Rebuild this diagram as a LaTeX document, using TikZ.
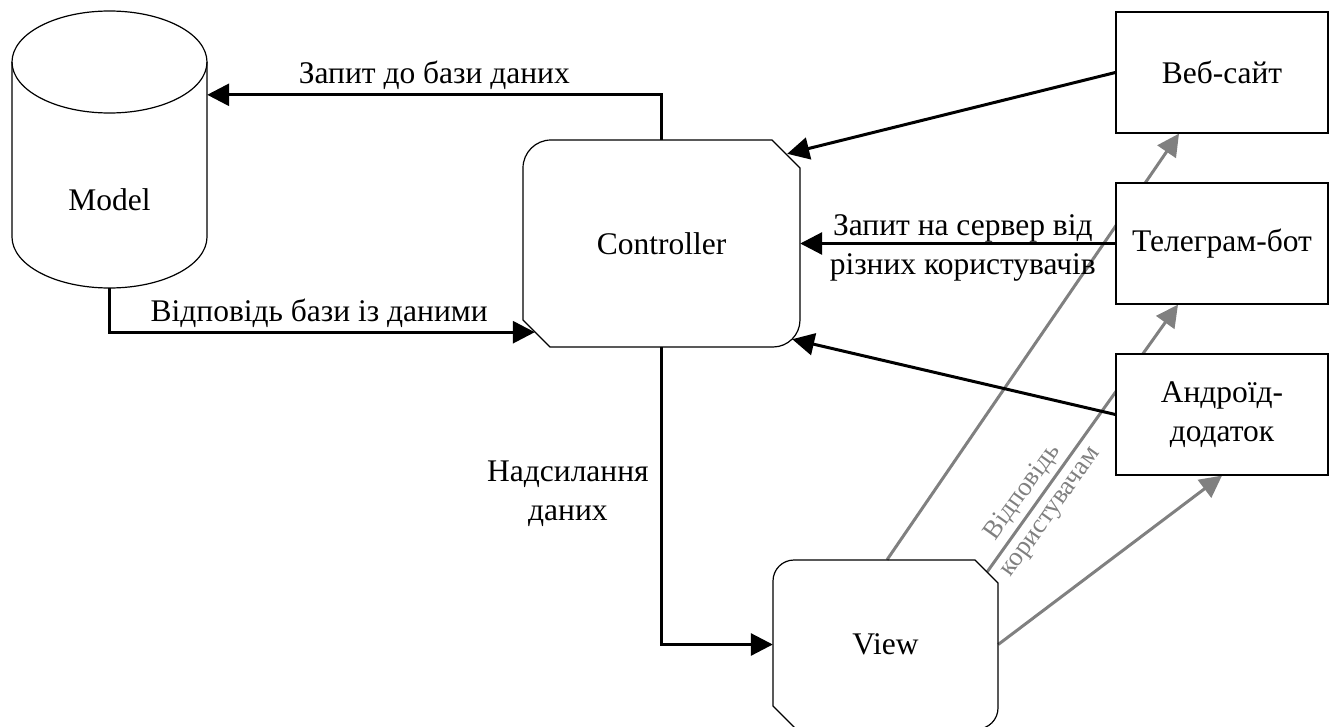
\documentclass[tikz,border=0pt]{standalone}
\usepackage{fontspec}
\setmainfont{Liberation Serif}
\usetikzlibrary{arrows.meta,backgrounds}
\definecolor{lgray}{RGB}{128,128,128}
\begin{document}
\begin{tikzpicture}[x=1pt,y=-1pt,
  font=\fontsize{31.5}{39}\selectfont,
  blk/.style={line width=3pt,-{Triangle[length=22pt,width=22pt]}},
  gry/.style={line width=3pt,draw=lgray,-{Triangle[length=22pt,width=22pt]}},
  client/.style={draw,line width=1.2pt,fill=white,minimum width=212pt,minimum height=121pt,inner sep=0pt,align=center},
  area/.style={inner sep=0pt},
  shapeline/.style={line width=1.2pt}]
\useasboundingbox (0,0) rectangle (1334,726);

% shapes drawn directly
\draw[shapeline] (12,62) -- (12,237) arc[start angle=180,end angle=0,x radius=97.5,y radius=51] -- (207,62);
\draw[shapeline] (109.5,62) ellipse[x radius=97.5,y radius=51];
\draw[shapeline] (523,168) arc[start angle=180,end angle=270,radius=28] -- (772,140) -- (800,168) -- (800,320)
  arc[start angle=0,end angle=90,radius=27] -- (550,347) -- (523,320) -- cycle;
\draw[shapeline] (773,581) arc[start angle=180,end angle=270,radius=21] -- (975,560) -- (998,583) -- (998,708)
  arc[start angle=0,end angle=90,radius=21] -- (796,729) -- (773,706) -- cycle;

% nodes
\node[area,minimum width=195pt,minimum height=176pt] (model) at (109.5,200) {Model};
\node[area,minimum width=277pt,minimum height=207pt] (ctrl) at (661.5,243.5) {Controller};
\node[area,minimum width=225pt,minimum height=169pt] (view) at (885.5,644.5) {View};
\node[client] (web) at (1222,72.5) {Веб-сайт};
\node[client] (tg) at (1222,243.5) {Телеграм-бот};
\node[client] (android) at (1222,414.5) {Андроїд-\\додаток};

% gray response arrows (behind the boxes)
\begin{pgfonlayer}{background}
\draw[gry] ([xshift=1.5pt]view.north) -- ([xshift=-43pt]web.south);
\draw[gry] ([shift={(-11pt,-12pt)}]view.north east) -- ([xshift=-44pt]tg.south)
  node[pos=0.26,sloped,text=lgray,align=center,font=\fontsize{26.5}{34}\selectfont] {Відповідь\\користувачам};
\draw[gry] (view.east) -- (android.south);
\end{pgfonlayer}

% black arrows
\draw[blk] (ctrl.north) |- ([yshift=17pt]model.north east)
  node[pos=0.75,above] {Запит до бази даних};
\draw[blk] (model.south) |- ([shift={(12pt,15pt)}]ctrl.south west)
  node[pos=0.75,above,xshift=-3pt] {Відповідь бази із даними};
\draw[blk] (web.west) -- ([shift={(-13pt,-14pt)}]ctrl.north east);
\draw[blk] (tg.west) -- (ctrl.east)
  node[pos=0.5,align=center,xshift=5pt,yshift=-4pt] {Запит на сервер від\\різних користувачів};
\draw[blk] (android.west) -- ([shift={(-8pt,8pt)}]ctrl.south east);
\draw[blk] (ctrl.south) |- (view.west)
  node[pos=0.247,left=8pt,align=center] {Надсилання\\даних};
\end{tikzpicture}
\end{document}
